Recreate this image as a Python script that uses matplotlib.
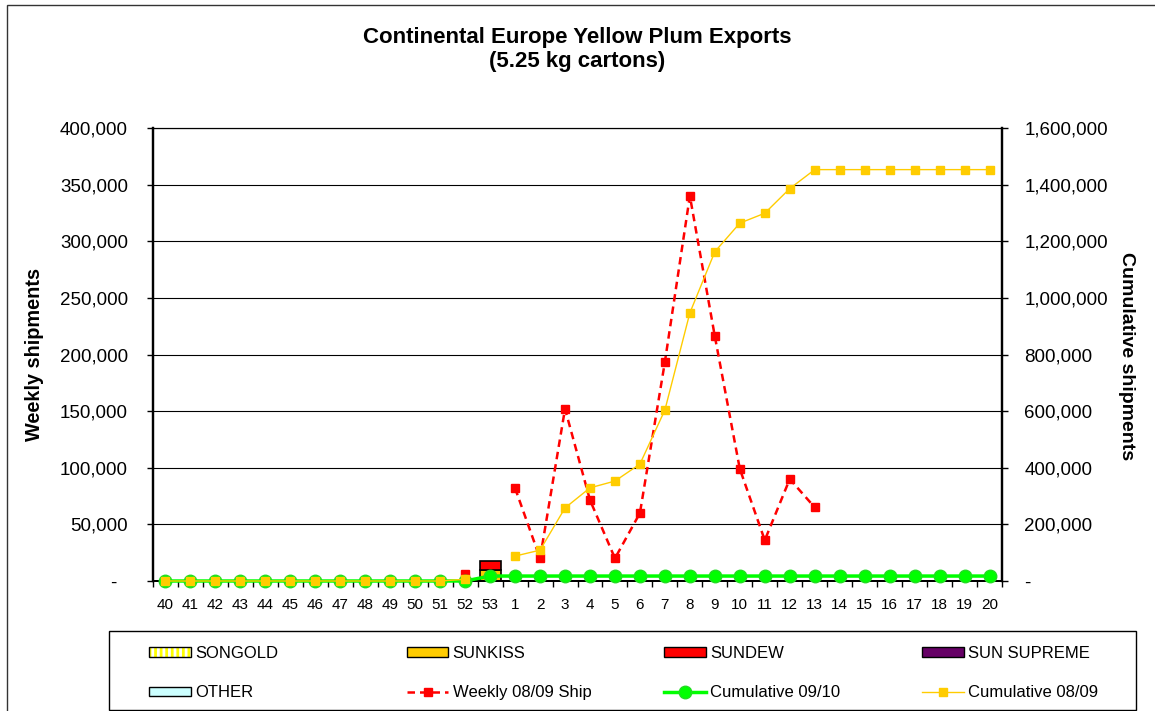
import matplotlib
matplotlib.use('Agg')
import matplotlib.pyplot as plt
import numpy as np
from matplotlib.patches import Patch, Rectangle
from matplotlib.lines import Line2D
from matplotlib.ticker import FuncFormatter, MultipleLocator

plt.rcParams['font.family'] = ['Liberation Sans', 'DejaVu Sans']
plt.rcParams['hatch.linewidth'] = 2.0

nan = np.nan

weeks = ['40', '41', '42', '43', '44', '45', '46', '47', '48', '49', '50', '51', '52', '53',
         '1', '2', '3', '4', '5', '6', '7', '8', '9', '10', '11', '12', '13', '14', '15',
         '16', '17', '18', '19', '20']

songold = [0, 0, 0, 0, 0, 0, 0, 0, 0, 0, 0, 0, 0, 0,
           0, 0, 0, 0, 0, 0, 0, 0, 0, 0, 0, 0, 0, 0, 0, 0, 0, 0, 0, 0]
sunkiss = [0, 0, 0, 0, 0, 0, 0, 0, 0, 0, 0, 0, 0, 10000,
           0, 0, 0, 0, 0, 0, 0, 0, 0, 0, 0, 0, 0, 0, 0, 0, 0, 0, 0, 0]
sundew = [0, 0, 0, 0, 0, 0, 0, 0, 0, 0, 0, 0, 0, 7500,
          0, 0, 0, 0, 0, 0, 0, 0, 0, 0, 0, 0, 0, 0, 0, 0, 0, 0, 0, 0]
sun_supreme = [0, 0, 0, 0, 0, 0, 0, 0, 0, 0, 0, 0, 0, 0,
               0, 0, 0, 0, 0, 0, 0, 0, 0, 0, 0, 0, 0, 0, 0, 0, 0, 0, 0, 0]
other = [0, 0, 0, 0, 0, 0, 0, 0, 0, 0, 0, 0, 0, 0,
         0, 0, 0, 0, 0, 0, 0, 0, 0, 0, 0, 0, 0, 0, 0, 0, 0, 0, 0, 0]

weekly_0809 = [nan, nan, nan, nan, nan, nan, nan, nan, nan, nan, nan, nan, 6000, nan,
               82000, 20000, 152000, 71500, 20000, 60000, 193500, 340000, 216000,
               99000, 36000, 90000, 65000, nan, nan, nan, nan, nan, nan, nan]
cum_0910 = [0, 0, 0, 0, 0, 0, 0, 0, 0, 0, 0, 0, 0, 17500,
            17500, 17500, 17500, 17500, 17500, 17500, 17500, 17500, 17500, 17500,
            17500, 17500, 17500, 17500, 17500, 17500, 17500, 17500, 17500, 17500]
cum_0809 = [0, 0, 0, 0, 0, 0, 0, 0, 0, 0, 0, 0, 6000, nan,
            88000, 109000, 258000, 329000, 353000, 413000, 604000, 947000, 1163000,
            1264000, 1299000, 1386000, 1453000, 1453000, 1453000, 1453000, 1453000,
            1453000, 1453000, 1453000]

C_SONGOLD = '#FFFF00'
C_SUNKISS = '#FFCC00'
C_SUNDEW = '#FF0000'
C_SUPREME = '#660066'
C_OTHER = '#CCFFFF'
C_WEEKLY = '#FF0000'
C_CUM10 = '#00FF00'
C_CUM09 = '#FFCC00'

W, H = 1155, 711
fig = plt.figure(figsize=(W / 100, H / 100), dpi=100)
ax = fig.add_axes([153 / W, 1 - 581 / H, (1002 - 153) / W, (581 - 128) / H])
ax2 = ax.twinx()

x = np.arange(len(weeks))
bw = 0.84
bottom = np.zeros(len(weeks))
series = [(songold, C_SONGOLD, '|||'), (sunkiss, C_SUNKISS, None),
          (sundew, C_SUNDEW, None), (sun_supreme, C_SUPREME, None), (other, C_OTHER, None)]
for vals, col, hat in series:
    v = np.array(vals, dtype=float)
    mask = v > 0
    if mask.any():
        ax.bar(x[mask], v[mask], bw, bottom=bottom[mask], color=col,
               edgecolor='black', linewidth=1.2, zorder=2)
    bottom += v

ax.plot(x, weekly_0809, color=C_WEEKLY, linestyle=(0, (3, 2)), linewidth=1.8,
        marker='s', markersize=6, zorder=4, clip_on=False)

ax2.plot(x, cum_0910, color=C_CUM10, linewidth=2.5, marker='o', markersize=9,
         markeredgecolor='#22DD22', zorder=3, clip_on=False)
ax2.plot(x, cum_0809, color=C_CUM09, linewidth=1.0, marker='s', markersize=6,
         zorder=4, clip_on=False)

ax.set_xlim(-0.5, len(weeks) - 0.5)
ax.set_ylim(0, 400000)
ax2.set_ylim(0, 1600000)
ax.yaxis.set_major_locator(MultipleLocator(50000))
ax2.yaxis.set_major_locator(MultipleLocator(200000))

ax.yaxis.set_major_formatter(FuncFormatter(lambda v, p: '-  ' if v == 0 else f'{v:,.0f}'))
ax2.yaxis.set_major_formatter(FuncFormatter(lambda v, p: '-' if v == 0 else f'{v:,.0f}'))

ax.set_xticks(x)
ax.set_xticklabels(weeks)
ax.set_xticks(np.arange(-0.5, len(weeks), 1.0), minor=True)
ax.tick_params(axis='x', which='major', length=0, pad=12, labelsize=11)
ax.tick_params(axis='x', which='minor', length=4, width=1, direction='out')
ax.tick_params(axis='y', length=4, width=1, pad=14, labelsize=13.5)
ax2.tick_params(axis='y', length=4, width=1, pad=12, labelsize=13.5)

ax.yaxis.grid(True, color='black', linewidth=0.8)
ax.set_axisbelow(True)
for a in (ax, ax2):
    a.spines['left'].set_linewidth(1.6)
    a.spines['right'].set_linewidth(1.6)
    a.spines['bottom'].set_linewidth(1.4)
    a.spines['top'].set_linewidth(0.8)

fig.text(0.5, 1 - 37 / H, 'Continental Europe Yellow Plum Exports', ha='center', va='center',
         fontsize=16, fontweight='bold')
fig.text(0.5, 1 - 62 / H, '(5.25 kg cartons)', ha='center', va='center',
         fontsize=16, fontweight='bold')
fig.text(35 / W, 1 - 354 / H, 'Weekly shipments', rotation=90, ha='center', va='center',
         fontsize=14.3, fontweight='bold')
fig.text(1127 / W, 1 - 356 / H, 'Cumulative shipments', rotation=-90, ha='center',
         va='center', fontsize=14, fontweight='bold')

# outer chart border (left and top visible)
fig.add_artist(Rectangle((7 / W, -0.1), 1.2, 1.1 - 5 / H,
                         transform=fig.transFigure, fill=False, edgecolor='#333333',
                         linewidth=1.0))

# legend frame
fig.add_artist(Rectangle((109 / W, 1 - 710 / H), 1027 / W, (710 - 631) / H,
                         transform=fig.transFigure, fill=False, edgecolor='black',
                         linewidth=1.0))

h_songold = Patch(facecolor=C_SONGOLD, edgecolor='white', hatch='|||', linewidth=0)
h_songold_edge = Patch(facecolor='none', edgecolor='black', linewidth=1.0)
h_sunkiss = Patch(facecolor=C_SUNKISS, edgecolor='black', linewidth=1.0)
h_sundew = Patch(facecolor=C_SUNDEW, edgecolor='black', linewidth=1.0)
h_supreme = Patch(facecolor=C_SUPREME, edgecolor='black', linewidth=1.0)
h_other = Patch(facecolor=C_OTHER, edgecolor='black', linewidth=1.0)
h_weekly = Line2D([], [], color=C_WEEKLY, linestyle=(0, (3, 2)), linewidth=1.8,
                  marker='s', markersize=6)
h_c10 = Line2D([], [], color=C_CUM10, linewidth=2.5, marker='o', markersize=9,
               markeredgecolor='#22DD22')
h_c09 = Line2D([], [], color=C_CUM09, linewidth=1.0, marker='s', markersize=6)

cols = [
    ([(h_songold, h_songold_edge), h_other], ['SONGOLD', 'OTHER']),
    ([h_sunkiss, h_weekly], ['SUNKISS', 'Weekly 08/09 Ship']),
    ([h_sundew, h_c10], ['SUNDEW', 'Cumulative 09/10']),
    ([h_supreme, h_c09], ['SUN SUPREME', 'Cumulative 08/09']),
]
for k, (hs, ls) in enumerate(cols):
    xpx = 149 + 257.7 * k
    fig.legend(hs, ls, loc='upper left', bbox_to_anchor=(xpx / W, 1 - 646 / H),
               bbox_transform=fig.transFigure, frameon=False, borderpad=0,
               borderaxespad=0, handlelength=2.5, handleheight=0.5,
               handletextpad=0.25, labelspacing=1.45, fontsize=12)

fig.savefig('out.png', dpi=100)
